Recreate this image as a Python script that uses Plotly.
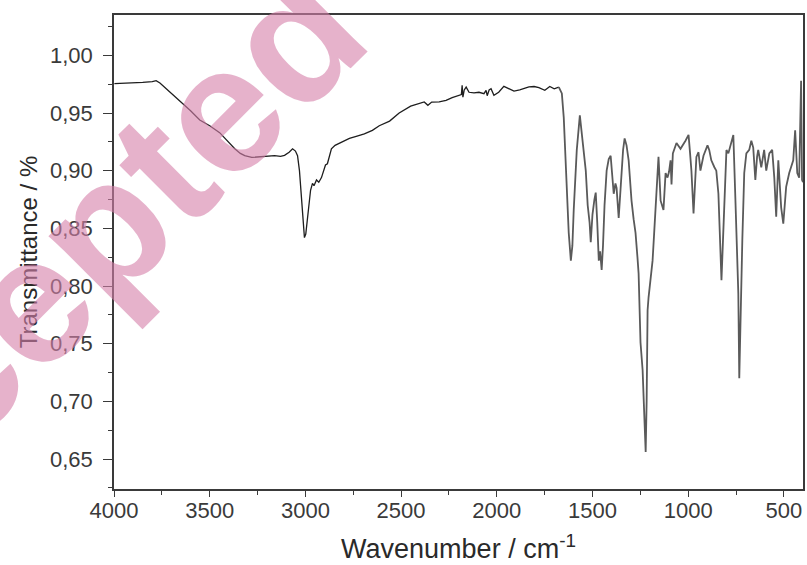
import plotly.graph_objects as go

# FTIR spectrum: wavenumber (cm-1) and transmittance
wavenumber = [
    3998, 3900, 3850, 3800, 3780, 3760, 3720, 3680, 3656, 3600, 3552, 3500, 3448, 3410, 3369,
    3340, 3317, 3280, 3239, 3200, 3161, 3130, 3109, 3085, 3067, 3052, 3041, 3031, 3020, 3012,
    3005, 2998, 2989, 2980, 2973, 2963, 2955, 2942, 2930, 2916, 2905, 2895, 2885, 2875, 2864,
    2845, 2822, 2800, 2770, 2730, 2692, 2650, 2614, 2560, 2510, 2450, 2379, 2360, 2340, 2301,
    2265, 2233, 2197, 2185, 2181, 2177, 2170, 2160, 2145, 2119, 2093, 2067, 2056, 2050, 2040,
    2030, 2015, 1990, 1963, 1937, 1910, 1880, 1832, 1805, 1780, 1749, 1723, 1700, 1676, 1660,
    1650, 1640, 1624, 1613, 1605, 1598, 1582, 1566, 1555, 1548, 1535, 1525, 1515, 1509, 1500,
    1490, 1483, 1475, 1467, 1460, 1452, 1445, 1437, 1426, 1415, 1405, 1398, 1389, 1380, 1374,
    1363, 1355, 1348, 1340, 1332, 1322, 1311, 1296, 1285, 1275, 1265, 1259, 1249, 1238, 1232,
    1228, 1222, 1217, 1212, 1207, 1202, 1186, 1178, 1170, 1160, 1155, 1144, 1129, 1118, 1108,
    1100, 1092, 1087, 1080, 1061, 1040, 1014, 998, 990, 983, 972, 965, 957, 946, 936,
    920, 899, 890, 879, 863, 853, 842, 837, 830, 826, 818, 811, 800, 790, 774,
    764, 753, 745, 738, 733, 725, 717, 707, 696, 681, 670, 660, 649, 640, 634,
    618, 603, 592, 576, 561, 550, 540, 529, 514, 503, 488, 472, 451, 441, 430,
    420, 410, 405, 400,
]
transmittance = [
    0.9755, 0.9758, 0.9765, 0.9772, 0.978, 0.976, 0.970, 0.964, 0.961, 0.952, 0.944, 0.939, 0.933, 0.926, 0.919,
    0.915, 0.913, 0.9115, 0.912, 0.9125, 0.913, 0.9125, 0.9133, 0.916, 0.919, 0.917, 0.913, 0.900, 0.874, 0.853,
    0.842, 0.845, 0.857, 0.874, 0.883, 0.889, 0.887, 0.892, 0.890, 0.894, 0.899, 0.905, 0.906, 0.912, 0.919,
    0.922, 0.924, 0.926, 0.928, 0.930, 0.932, 0.935, 0.939, 0.943, 0.950, 0.956, 0.9596, 0.9567, 0.9595, 0.9596,
    0.961, 0.9634, 0.9653, 0.966, 0.974, 0.9637, 0.970, 0.9725, 0.968, 0.9674, 0.968, 0.9668, 0.9697, 0.965, 0.970,
    0.971, 0.9653, 0.968, 0.9731, 0.971, 0.969, 0.970, 0.9726, 0.973, 0.972, 0.9697, 0.973, 0.971, 0.9725, 0.967,
    0.946, 0.903, 0.846, 0.822, 0.835, 0.866, 0.918, 0.948, 0.930, 0.917, 0.900, 0.870, 0.855, 0.838, 0.862,
    0.875, 0.881, 0.855, 0.822, 0.830, 0.814, 0.835, 0.870, 0.900, 0.910, 0.913, 0.900, 0.880, 0.889, 0.885,
    0.859, 0.880, 0.900, 0.918, 0.928, 0.922, 0.909, 0.874, 0.858, 0.846, 0.825, 0.811, 0.751, 0.727, 0.700,
    0.678, 0.656, 0.700, 0.779, 0.790, 0.799, 0.822, 0.845, 0.866, 0.900, 0.912, 0.874, 0.866, 0.898, 0.894,
    0.899, 0.909, 0.888, 0.915, 0.924, 0.919, 0.926, 0.931, 0.915, 0.900, 0.863, 0.890, 0.912, 0.916, 0.900,
    0.913, 0.922, 0.918, 0.909, 0.903, 0.900, 0.880, 0.857, 0.820, 0.805, 0.840, 0.866, 0.918, 0.915, 0.926,
    0.931, 0.874, 0.830, 0.794, 0.720, 0.790, 0.840, 0.898, 0.915, 0.918, 0.926, 0.920, 0.892, 0.912, 0.918,
    0.903, 0.918, 0.900, 0.915, 0.918, 0.894, 0.860, 0.909, 0.868, 0.854, 0.886, 0.898, 0.909, 0.935, 0.898,
    0.894, 0.978, 0.892, 0.890,
]

x_ticks = [4000, 3500, 3000, 2500, 2000, 1500, 1000, 500]
y_ticks = [0.65, 0.70, 0.75, 0.80, 0.85, 0.90, 0.95, 1.00]

# the fingerprint region is drawn in a lighter, heavier stroke
split = 1680
hi_x = [w for w in wavenumber if w >= split - 5]
hi_y = [t for w, t in zip(wavenumber, transmittance) if w >= split - 5]
lo_x = [w for w in wavenumber if w <= split]
lo_y = [t for w, t in zip(wavenumber, transmittance) if w <= split]

fig = go.Figure()
fig.add_trace(go.Scatter(x=hi_x, y=hi_y, mode="lines",
                         line=dict(color="#1e1e1e", width=1.3), showlegend=False))
fig.add_trace(go.Scatter(x=lo_x, y=lo_y, mode="lines",
                         line=dict(color="#5a5a5a", width=1.8), showlegend=False))

font_family = "Liberation Sans, Arial, sans-serif"
axis_common = dict(
    showline=True, linecolor="#3a3a3a", linewidth=1.6, mirror=True,
    showgrid=False, zeroline=False,
    ticks="outside", tickwidth=1.4, tickcolor="#3a3a3a",
    tickfont=dict(family=font_family, size=22, color="#3a3a3a"),
)

fig.update_xaxes(
    range=[4000, 400], tickvals=x_ticks, ticklen=6, ticklabelstandoff=-5,
    minor=dict(dtick=250, ticks="outside", ticklen=4, tickwidth=1.2, tickcolor="#3a3a3a"),
    title=dict(text="Wavenumber / cm<sup>-1</sup>", standoff=17,
               font=dict(family=font_family, size=27, color="#2a2a2a")),
    **axis_common,
)
fig.update_yaxes(
    range=[0.624, 1.035], tickvals=y_ticks, tickformat=".2f", ticklen=9, ticklabelstandoff=6,
    minor=dict(dtick=0.025, ticks="outside", ticklen=4, tickwidth=1.2, tickcolor="#3a3a3a"),
    title=dict(text="Transmittance / %", standoff=6,
               font=dict(family=font_family, size=24, color="#2a2a2a")),
    **axis_common,
)

fig.add_annotation(
    text="<b>Accepted</b>", xref="paper", yref="paper", x=-0.10, y=0.43,
    xanchor="center", yanchor="middle",
    showarrow=False, textangle=-45, opacity=0.6,
    font=dict(family=font_family, size=180, color="rgb(214,128,170)"),
)

fig.update_layout(
    width=807, height=565,
    margin=dict(l=114, r=2, t=15, b=76),
    paper_bgcolor="white", plot_bgcolor="white",
    separators=", ",
)

fig.write_html("out.html")
